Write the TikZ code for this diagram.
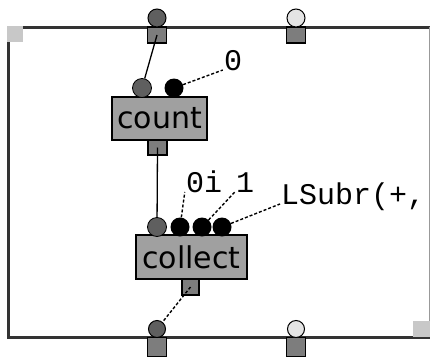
\documentclass[tikz,border=0pt]{standalone}
\usepackage{fontspec}
\newfontfamily\boxfont{DejaVu Sans}
\newfontfamily\valfont{Liberation Mono}
\usetikzlibrary{positioning}
\definecolor{boxgray}{RGB}{160,160,160}
\definecolor{portgray}{RGB}{125,125,125}
\definecolor{plugdark}{RGB}{95,95,95}
\definecolor{pluglight}{RGB}{228,228,228}
\definecolor{cornergray}{RGB}{200,200,200}

\begin{document}
\begin{tikzpicture}[x=1pt, y=-1pt,
	patchbox/.style={draw, line width=1.5pt, fill=boxgray, minimum width=#1, minimum height=43pt, inner sep=0pt, font=\boxfont\fontsize{30}{30}\selectfont},
	portsq/.style={draw, line width=1.2pt, fill=portgray, minimum width=19pt, minimum height=16pt, inner sep=0pt},
	plug/.style={circle, draw, line width=1pt, minimum size=18pt, inner sep=0pt},
	inlet/.style={circle, fill=black, minimum size=19pt, inner sep=0pt},
	val/.style={inner sep=1pt, font=\valfont\fontsize{30}{30}\selectfont},
	wire/.style={line width=1.3pt},
	valwire/.style={line width=1.4pt, dash pattern=on 3pt off 2pt}]
	\useasboundingbox (0,0) rectangle (430,356);
	% frame of the patch
	\draw[line width=3pt, black!80] (8,27)--(430,27);
	\draw[line width=3pt, black!80] (8,27)--(8,337)--(430,337);
	\draw[line width=1pt, black!40] (429,27)--(429,321);
	\fill[cornergray] (7,26) rectangle (23,42);
	\fill[cornergray] (413,321) rectangle (430,337);

	% inputs on the top edge
	\node[portsq] (in1) at (157,35) {};
	\node[plug, fill=plugdark] (in1p) at (157,18) {};
	\node[portsq] (in2) at (296,35) {};
	\node[plug, fill=pluglight] (in2p) at (296,18) {};

	% outputs on the bottom edge
	\node[portsq, minimum height=19pt] (out1) at (157,347) {};
	\node[plug, fill=plugdark, minimum size=17pt] (out1p) at (157,329) {};
	\node[portsq, minimum height=19pt] (out2) at (296,347) {};
	\node[plug, fill=pluglight, minimum size=17pt] (out2p) at (296,329) {};

	% the two boxes
	\node[patchbox=95pt] (count) at (159.5,118.5) {count};
	\node[inlet, fill=plugdark, draw, line width=0.8pt] (cin1) at (142,88) {};
	\node[inlet] (cin2) at (174,88) {};
	\node[portsq, minimum height=15pt] (cout) at (157.5,147.5) {};

	\node[patchbox=111pt, minimum height=44pt] (collect) at (191.5,257) {collect};
	\node[inlet, fill=plugdark, draw, line width=0.8pt] (clin1) at (157,227) {};
	\node[inlet] (clin2) at (180,227) {};
	\node[inlet] (clin3) at (202,227) {};
	\node[inlet] (clin4) at (222,227) {};
	\node[portsq, minimum width=17pt] (clout) at (190.5,287) {};

	% values typed into the inlets
	\node[val, anchor=base] (v0) at (233,70) {0};
	\node[val, anchor=base] (v0i) at (204,192) {0i};
	\node[val, anchor=base] (v1) at (245,192) {1};
	\node[val, anchor=base west] (vsub) at (280,204) {LSubr(+,};

	% connections
	\draw[wire] (in1.center) -- (cin1);
	\draw[wire] (cout.center) -- (clin1);
	\draw[valwire] (clout.center) -- (out1p);
	\draw[valwire] (cin2) -- (v0.base west);
	\draw[valwire] (clin2) -- (v0i.base west);
	\draw[valwire] (clin3) -- (v1.base west);
	\draw[valwire] (clin4) -- (vsub.base west);
\end{tikzpicture}
\end{document}
